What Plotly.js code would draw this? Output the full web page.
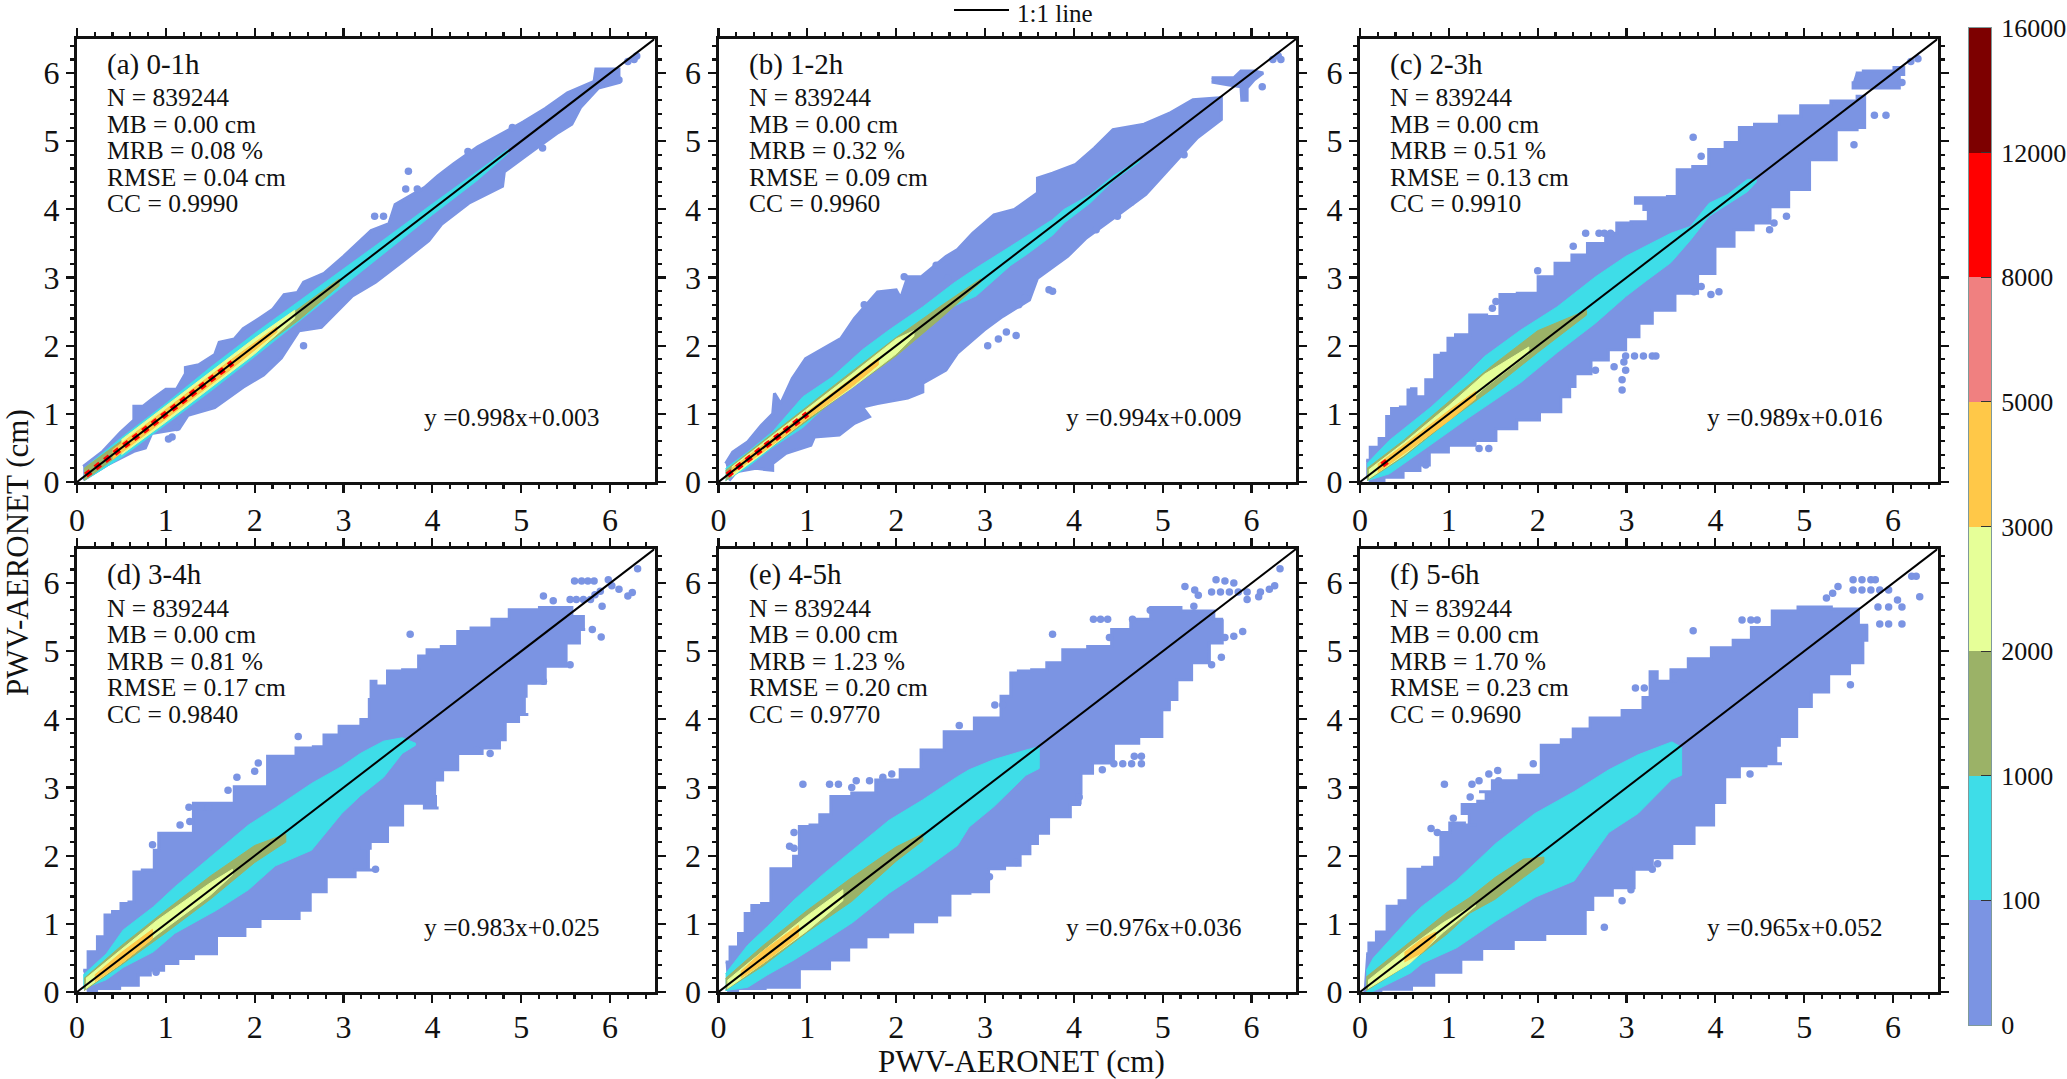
<!DOCTYPE html>
<html><head><meta charset="utf-8">
<script src="https://cdn.plot.ly/plotly-3.0.1.min.js"></script>
<style>html,body{margin:0;padding:0;background:#fff}</style></head>
<body><div id="chart" style="width:2067px;height:1079px"></div>
<script>
const panelTitles=["(a) 0-1h","(b) 1-2h","(c) 2-3h","(d) 3-4h","(e) 4-5h","(f) 5-6h"];
const nValues=["839244","839244","839244","839244","839244","839244"];
const mbValues=["0.00","0.00","0.00","0.00","0.00","0.00"];
const mrbValues=["0.08","0.32","0.51","0.81","1.23","1.70"];
const rmseValues=["0.04","0.09","0.13","0.17","0.20","0.23"];
const ccValues=["0.9990","0.9960","0.9910","0.9840","0.9770","0.9690"];
const fitLabels=["y =0.998x+0.003","y =0.994x+0.009","y =0.989x+0.016","y =0.983x+0.025","y =0.976x+0.036","y =0.965x+0.052"];
const levelLabels=["0","100","1000","2000","3000","5000","8000","12000","16000"];
const bandColors=["#7b94e3","#3edde8","#9bb267","#e6ff98","#ffc848","#f08080","#ff0000","#7d0000"];
const edgeShapes=["linear","linear","hvh","hvh","hvh","hvh"];

// outer region, count 0-100: polygon vertices (x,y) read along the upper then lower edge
const aBlueX=[.07,.29,.49,.64,.64,.74,.84,1,1.12,1.22,1.22,1.37,1.55,1.6,1.77,1.87,2.05,2.2,2.33,2.48,2.55,2.78,3,3.16,3.31,3.51,3.58,3.91,4.06,4.24,4.51,4.81,5.02,5.27,5.52,5.82,5.84,6.1,6.1,5.87,5.67,5.57,5.42,5.12,4.81,4.79,4.41,4.11,3.96,3.66,3.36,3.1,2.75,2.5,2.3,2.1,1.87,1.55,1.25,1.15,.84,.77,.64,.34,.07];
const aBlueY=[.23,.45,.73,.91,1.11,1.11,1.21,1.36,1.36,1.59,1.68,1.72,1.87,2.05,2.1,2.25,2.4,2.53,2.75,2.78,2.93,3.06,3.31,3.51,3.69,3.79,4.07,4.32,4.49,4.67,4.92,5.13,5.28,5.48,5.71,5.88,6.06,6.06,5.86,5.78,5.5,5.25,5.13,4.85,4.55,4.34,4.09,3.79,3.54,3.23,2.93,2.73,2.27,2.22,1.82,1.57,1.39,1.09,.98,.78,.71,.5,.45,.25,.03];
const aDotX=[3.73,3.7,3.83,3.35,3.45,2.55,4.4,4.9,5.24,6.27,6.3,6.2,6.1,1.07,1.12,1.03];
const aDotY=[4.56,4.3,4.3,3.9,3.9,2,4.85,5.2,4.9,6.2,6.25,6.17,5.9,.66,.8,.63];
const aCyanX=[.08,.5,1,1.5,2,2.5,3,3.5,4,4.5,4.85];
const aCyanHi=[.2,.65,1.15,1.68,2.18,2.65,3.12,3.6,4.08,4.55,4.88];
const aCyanLo=[.02,.36,.85,1.33,1.84,2.35,2.88,3.4,3.92,4.42,4.82];
const aOliveX=[.08,.6,1,2,2.5,2.95];
const aOliveHi=[.2,.7,1.1,2.08,2.55,2.98];
const aOliveLo=[.02,.52,.9,1.9,2.38,2.88];
const aYellowX=[.5,1,1.5,2,2.45];
const aYellowHi=[.62,1.12,1.62,2.11,2.52];
const aYellowLo=[.4,.88,1.38,1.88,2.4];
const aOrangeX=[.4,1,1.7,2.25];
const aOrangeHi=[.47,1.07,1.76,2.28];
const aOrangeLo=[.33,.93,1.62,2.2];
const aRedEnds=[.1,1.75];

const bBlueX=[.08,.16,.33,.48,.61,.63,.7,.83,.98,1.15,1.38,1.53,1.79,2,2.05,2.13,2.28,2.56,2.69,2.86,3.1,3.33,3.59,3.59,3.76,4.02,4.23,4.44,4.79,5.09,5.34,5.66,5.66,5.39,5,4.81,4.53,4.32,4.14,3.93,3.59,3.5,3.2,2.99,2.69,2.56,2.3,2.3,2.13,1.79,1.62,1.7,1.53,1.36,1.08,1.04,.76,.61,.61,.42,.2,.12,null,5.55,5.8,5.88,6.03,6.13,6.03,5.95,5.95,5.89,5.88,5.73,5.55];
const bBlueY=[.27,.44,.59,.83,1,1.3,1.15,1.52,1.81,1.94,2.11,2.4,2.79,2.82,2.7,3.01,3.01,3.31,3.41,3.65,3.92,4,4.24,4.46,4.53,4.66,4.9,5.17,5.25,5.42,5.61,5.64,5.32,5.05,4.49,4.22,3.95,3.75,3.58,3.31,2.99,2.67,2.43,2.23,1.89,1.64,1.45,1.32,1.23,1.15,1.1,.96,.86,.69,.66,.54,.42,.27,.17,.2,.15,.02,null,5.93,5.93,6.03,6.03,6,5.9,5.78,5.6,5.6,5.8,5.83,5.87];
const bDotX=[3.72,3.76,3.45,3.38,3.24,3.35,3.15,3.03,4.64,4.49,4.25,5.24,6.12,6.24,6.3,6.33,2.58,2.45,2.09,1.64];
const bDotY=[2.82,2.8,2.7,2.6,2.2,2.15,2.1,2,4.1,3.9,3.7,4.8,5.8,6.2,6.25,6.2,2.99,3.18,3.01,2.6];
const bCyanX=[.08,.33,.61,.95,1.28,1.62,1.92,2.3,2.65,2.9,3.29,3.46,3.76,3.89,4.19,4.44,4.74];
const bCyanHi=[.2,.44,.74,1.25,1.54,1.94,2.23,2.57,2.92,3.14,3.46,3.6,3.85,4,4.22,4.49,4.73];
const bCyanLo=[.02,.22,.51,.8,1.2,1.5,1.78,2.23,2.58,2.73,3.18,3.33,3.62,3.8,4.1,4.42,4.7];
const bOliveX=[.08,.5,1,1.5,2,2.5,2.95];
const bOliveHi=[.17,.6,1.12,1.62,2.12,2.58,2.98];
const bOliveLo=[.02,.42,.9,1.38,1.85,2.4,2.93];
const bYellowX=[.15,.5,1,1.5,2,2.2];
const bYellowHi=[.22,.57,1.07,1.58,2.1,2.22];
const bYellowLo=[.08,.42,.93,1.38,1.88,2.14];
const bOrangeX=[.15,.5,1,1.5,1.8];
const bOrangeHi=[.2,.54,1.03,1.52,1.82];
const bOrangeLo=[.12,.44,.93,1.4,1.72];
const bRedEnds=[.1,1];

const cBlueX=[.07,.16,.27,.33,.38,.53,.55,.61,.65,.83,.85,.98,1,1.15,1.32,1.53,1.62,1.92,2.09,2.3,2.47,2.65,2.88,2.9,3.2,3.29,3.1,3.1,3.37,3.55,3.59,3.9,3.95,4.27,4.27,4.61,4.83,5.09,5.51,5.68,5.68,5.51,5.21,4.91,4.74,4.49,4.36,4.06,3.93,3.67,3.42,3.16,3.12,2.86,2.73,2.47,2.37,2.35,2.17,1.87,1.66,1.4,1.19,.8,.76,.59,.38,.16,.07,null,5.58,5.75,5.9,6.12,6.12,6.02,5.55,5.55];
const cBlueY=[.32,.51,.64,.96,1.08,1.1,1.35,1.37,1.25,1.5,1.86,1.89,2.11,2.16,2.45,2.43,2.75,2.77,3.01,3.21,3.33,3.5,3.65,3.8,3.82,4,4.09,4.17,4.17,4.19,4.58,4.63,4.88,4.98,5.2,5.25,5.37,5.52,5.59,5.66,5.2,5.17,4.73,4.29,4.04,3.8,3.7,3.46,3.06,2.77,2.52,2.33,2.13,1.94,1.79,1.59,1.4,1.25,1.03,.91,.78,.61,.54,.44,.25,.17,.07,.02,.07,null,6,6.03,6.03,6.08,5.98,5.78,5.78,5.88];
const cDotX=[3.75,3.84,5.56,5.79,5.92,4.61,4.66,4.8,3.33,2.99,3.09,3.19,3.29,2.97,2.86,2.99,2.65,2.95,2.95,1.45,1.34,.74,6.1,6.28,6.2,4.04,3.95,3.76,3.84,2.54,2.69,2.75,2.82,2.4,2,1.53,1.49];
const cDotY=[5.06,4.78,4.95,5.38,5.38,3.7,3.8,3.9,1.85,1.85,1.85,1.85,1.85,1.76,1.69,1.64,1.64,1.5,1.35,.49,.49,.25,5.86,6.21,6.17,2.79,2.75,2.79,2.87,3.65,3.65,3.65,3.65,3.46,3.1,2.65,2.55];
const cCyanX=[.08,.33,.8,1.21,1.4,1.81,2.22,2.65,2.99,3.22,3.5,3.72,3.93,4.14,4.36,4.46];
const cCyanHi=[.27,.61,1.1,1.59,1.84,2.23,2.57,3.01,3.31,3.46,3.65,3.75,4.09,4.22,4.44,4.44];
const cCyanLo=[.02,.12,.55,.93,1.1,1.46,1.9,2.33,2.72,2.95,3.22,3.55,3.9,4.08,4.26,4.4];
const cOliveX=[.08,.5,1,1.5,2,2.55];
const cOliveHi=[.2,.62,1.18,1.72,2.22,2.52];
const cOliveLo=[.02,.38,.9,1.38,1.9,2.45];
const cYellowX=[.1,.5,1,1.4,1.9];
const cYellowHi=[.18,.58,1.12,1.58,1.98];
const cYellowLo=[.05,.4,.92,1.38,1.88];
const cOrangeX=[.2,.5,1,1.3];
const cOrangeHi=[.26,.55,1.05,1.33];
const cOrangeLo=[.14,.42,.9,1.22];
const cRedEnds=[.25,.35];

const dBlueX=[.07,.18,.28,.35,.45,.54,.63,.65,.82,.92,.92,1.14,1.48,1.63,1.91,2.38,2.55,2.77,2.79,3.11,3.28,3.3,3.32,3.41,3.58,3.75,3.94,3.94,4.26,4.31,4.56,4.78,4.95,5.46,5.68,5.72,5.59,5.42,5.12,4.99,5.08,4.86,4.78,4.73,4.39,4.18,4.05,4,4.07,3.75,3.58,3.41,3.19,3.37,2.89,2.72,2.53,2.47,2.08,2.04,1.74,1.4,1.22,1.05,.9,.75,.63,.33,.11];
const dBlueY=[.32,.59,.81,1.13,1.18,1.3,1.32,1.76,1.79,2.08,2.33,2.33,2.77,2.77,3.01,3.46,3.58,3.6,3.77,3.9,4,4.29,4.56,4.49,4.71,4.73,4.93,5.02,5.07,5.29,5.34,5.47,5.61,5.64,5.51,5.32,5.12,4.78,4.53,4.34,4.07,3.97,3.7,3.58,3.5,3.26,3.11,2.87,2.7,2.77,2.45,2.21,2.11,1.79,1.69,1.47,1.2,1.08,1.08,.96,.83,.56,.49,.42,.32,.25,.1,.05,.02];
const dDotX=[5.6,5.68,5.75,5.82,5.55,5.62,5.7,5.78,5.89,6.02,6.1,5.98,5.83,5.91,6.31,6.25,6.2,5.36,5.25,5.8,5.9,3.75,5.55,5.25,4.5,4.65,3.36,2.49,2.04,2,1.8,1.7,1.26,1.33,1.4,1.48,1.16,1.27,.85,.89];
const dDotY=[6.03,6.03,6.03,6.03,5.76,5.76,5.76,5.76,5.88,5.96,5.91,6.05,5.83,5.66,6.21,5.86,5.81,5.74,5.81,5.32,5.21,5.25,4.8,4.56,3.55,3.5,1.8,3.75,3.36,3.24,3.15,2.96,2.71,2.71,2.71,2.71,2.45,2.5,2.16,.29];
const dCyanX=[.07,.33,.52,.86,1.1,1.57,1.93,2.23,2.64,2.98,3.19,3.45,3.66,3.81];
const dCyanHi=[.25,.56,.91,1.25,1.54,2.06,2.45,2.7,3.06,3.31,3.5,3.68,3.73,3.65];
const dCyanLo=[.05,.18,.36,.59,.86,1.2,1.5,1.85,2.08,2.62,2.88,3.15,3.5,3.62];
const dOliveX=[.08,.5,1,1.5,2,2.35];
const dOliveHi=[.2,.68,1.2,1.7,2.15,2.32];
const dOliveLo=[.02,.4,.87,1.36,1.9,2.2];
const dYellowX=[.1,.5,.9,1.5,1.75];
const dYellowHi=[.2,.62,1.05,1.6,1.8];
const dYellowLo=[.05,.42,.84,1.42,1.72];
const dOrangeX=[.2,.5,.85];
const dOrangeHi=[.25,.58,.92];
const dOrangeLo=[.15,.42,.78];

const eBlueX=[.08,.18,.27,.33,.42,.55,.63,.8,.89,.93,1.13,1.15,1.38,1.62,1.92,2.17,2.39,2.69,3.07,3.29,3.29,3.46,3.59,3.8,3.95,4.36,4.49,4.79,4.94,5.47,5.68,5.66,5.39,5.26,5.06,5.09,4.89,4.57,4.32,4.1,4.06,4.08,3.84,3.59,3.59,3.42,3.37,3.07,3.01,2.65,2.56,2.35,2.02,1.79,1.53,1.4,1.1,.72,.33,.1];
const eBlueY=[.44,.66,.86,1.15,1.27,1.3,1.81,1.81,1.99,2.43,2.45,2.6,2.87,2.92,3.11,3.26,3.55,3.82,4.02,4.34,4.68,4.71,4.73,4.83,5.02,5.07,5.32,5.47,5.64,5.59,5.47,5.12,4.83,4.58,4.29,4.14,3.75,3.65,3.36,3.21,2.92,2.75,2.57,2.33,2.18,2.03,1.86,1.81,1.47,1.45,1.13,1.03,.88,.81,.66,.47,.34,.07,.05,0];
const eDotX=[.95,1.25,1.35,1.5,1.55,1.7,1.85,1.95,.85,.8,.85,2.71,3.11,3.2,3.76,4.4,4.66,4.38,4.3,4.22,4.86,5.66,5.55,4.45,4.55,4.65,4.76,4.68,4.76,4.32,4.06,3.35,3.05,5.6,5.7,5.8,5.25,5.36,5.4,5.55,5.65,5.75,5.85,5.95,6.1,5.95,6.08,5.9,5.8,5.7,6.32,6.26,6.2,5.35];
const eDotY=[3.05,3.05,3.05,3,3.1,3.1,3.15,3.2,2.34,2.14,2.11,3.91,4.21,4.21,5.25,5.2,5.47,5.47,5.47,5.47,5.6,4.91,4.8,3.35,3.35,3.35,3.35,3.46,3.46,3.26,2.86,1.9,1.69,6.05,6.03,6,5.95,5.9,5.82,5.87,5.87,5.87,5.87,5.87,5.87,5.76,5.8,5.29,5.22,5.2,6.21,5.96,5.91,5.66];
const eCyanX=[.08,.33,.55,.85,1.19,1.51,1.92,2.3,2.69,2.82,3.1,3.46,3.61];
const eCyanHi=[.27,.69,.96,1.35,1.74,2.08,2.52,2.82,3.16,3.26,3.41,3.55,3.6];
const eCyanLo=[.02,.07,.25,.47,.75,1.02,1.45,1.78,2.15,2.42,2.72,3.18,3.28];
const eOliveX=[.08,.5,1,1.5,2,2.3];
const eOliveHi=[.2,.68,1.2,1.68,2.13,2.32];
const eOliveLo=[.03,.38,.88,1.33,1.92,2.22];
const eYellowX=[.1,.5,1,1.4];
const eYellowHi=[.17,.6,1.12,1.5];
const eYellowLo=[.05,.42,.9,1.34];
const eOrangeX=[.25,.5,.9];
const eOrangeHi=[.3,.6,.98];
const eOrangeLo=[.2,.42,.82];

const fBlueX=[.07,.13,.24,.37,.51,.57,.84,.84,.98,1.04,1.31,1.15,1.15,1.5,1.34,1.64,1.94,2.14,2.39,2.41,2.77,3.13,3.24,3.29,3.4,3.6,3.79,4.12,4.28,4.53,4.75,5.11,5.5,5.72,5.69,5.63,5.39,5.16,5,4.83,4.61,4.75,4.39,4.15,4.06,3.9,3.62,3.4,3.18,2.99,2.69,2.55,2.52,2.3,1.86,1.59,1.15,1.12,.93,.73,.43,.04];
const fBlueY=[.56,.72,.88,1.26,1.34,1.8,1.83,1.97,2.34,2.48,2.45,2.62,2.75,2.8,2.94,3.1,3.18,3.62,3.7,3.86,4.02,4.13,4.32,4.7,4.56,4.73,4.89,5.05,5.16,5.35,5.59,5.65,5.62,5.38,5.16,4.83,4.67,4.4,4.19,3.75,3.62,3.35,3.32,3.16,2.78,2.45,2.18,1.97,1.8,1.53,1.42,1.21,.86,.86,.77,.64,.48,.29,.29,.1,.04,0];
const fDotX=[.95,1.26,1.45,1.55,1.24,1.34,1.56,1.95,1.05,.8,.87,3.75,3.1,3.2,3.55,6.3,6.21,6.26,2.75,2.95,3.05,3.29,3.35,4.39,5.52,5.55,5.65,5.75,5.8,5.55,5.65,5.75,5.85,5.95,5.38,5.32,5.25,5.83,5.95,6.1,5.85,5.95,6.1,4.4,4.3,4.47,6.05];
const fDotY=[3.05,3.05,3.2,3.25,2.86,3.1,3.1,3.35,2.55,2.4,2.34,5.3,4.46,4.46,4.6,5.8,6.1,6.1,.95,1.34,1.5,1.8,1.88,3.2,4.51,6.05,6.05,6.05,6.05,5.9,5.9,5.9,5.9,5.9,5.95,5.85,5.78,5.65,5.65,5.65,5.4,5.4,5.4,5.46,5.46,5.46,5.75];
const fCyanX=[.07,.15,.57,.7,1.09,1.53,1.97,2.41,2.8,3.13,3.51,3.62];
const fCyanHi=[.31,.5,1.1,1.26,1.64,2.18,2.62,2.94,3.26,3.48,3.67,3.59];
const fCyanLo=[0,.01,.28,.42,.65,1.04,1.39,1.63,2.34,2.62,3.12,3.18];
const fOliveX=[.07,.49,.98,1.24,1.52,1.84,2.07];
const fOliveHi=[.22,.66,1.17,1.39,1.68,1.95,1.98];
const fOliveLo=[.02,.36,.85,1.16,1.36,1.68,1.9];
const fYellowX=[.09,.56,.94,1.3];
const fYellowHi=[.17,.66,1.02,1.29];
const fYellowLo=[.05,.42,.88,1.26];
const fOrangeX=[.5,.7,.85];
const fOrangeHi=[.58,.78,.88];
const fOrangeLo=[.44,.58,.8];

const diagonalEnds=[0,6.5];

const blueX=[aBlueX,bBlueX,cBlueX,dBlueX,eBlueX,fBlueX], blueY=[aBlueY,bBlueY,cBlueY,dBlueY,eBlueY,fBlueY];
const dotX=[aDotX,bDotX,cDotX,dDotX,eDotX,fDotX], dotY=[aDotY,bDotY,cDotY,dDotY,eDotY,fDotY];
const bandTables=[
 [[aCyanX,aCyanHi,aCyanLo],[aOliveX,aOliveHi,aOliveLo],[aYellowX,aYellowHi,aYellowLo],[aOrangeX,aOrangeHi,aOrangeLo]],
 [[bCyanX,bCyanHi,bCyanLo],[bOliveX,bOliveHi,bOliveLo],[bYellowX,bYellowHi,bYellowLo],[bOrangeX,bOrangeHi,bOrangeLo]],
 [[cCyanX,cCyanHi,cCyanLo],[cOliveX,cOliveHi,cOliveLo],[cYellowX,cYellowHi,cYellowLo],[cOrangeX,cOrangeHi,cOrangeLo]],
 [[dCyanX,dCyanHi,dCyanLo],[dOliveX,dOliveHi,dOliveLo],[dYellowX,dYellowHi,dYellowLo],[dOrangeX,dOrangeHi,dOrangeLo]],
 [[eCyanX,eCyanHi,eCyanLo],[eOliveX,eOliveHi,eOliveLo],[eYellowX,eYellowHi,eYellowLo],[eOrangeX,eOrangeHi,eOrangeLo]],
 [[fCyanX,fCyanHi,fCyanLo],[fOliveX,fOliveHi,fOliveLo],[fYellowX,fYellowHi,fYellowLo],[fOrangeX,fOrangeHi,fOrangeLo]]
];
const redEnds=[aRedEnds,bRedEnds,cRedEnds,null,null,null];

const W=2067,H=1079;
const SERIF="Liberation Serif";
const panelLeft=[77,718.5,1360], panelTop=[39,549], panelW=577.5, panelH=443;
const traces=[],annotations=[],layout={};
function rev(a){return a.slice().reverse();}
function txt(x,y,text,size,extra){
  annotations.push(Object.assign({xref:"paper",yref:"paper",x:x/W,y:1-y/H,text:text,showarrow:false,xanchor:"left",yanchor:"middle",borderpad:0,font:{family:SERIF,size:size,color:"#111"}},extra||{}));
}
for(let p=0;p<6;p++){
  const col=p%3,row=Math.floor(p/3),n=p+1;
  const L=panelLeft[col],T=panelTop[row];
  const xa="x"+(n===1?"":n),ya="y"+(n===1?"":n);
  const axBase={range:[0,6.5],dtick:1,tick0:0,ticks:"outside",ticklen:8,tickwidth:2.2,tickcolor:"#111",linecolor:"#111",linewidth:3,mirror:"allticks",showgrid:false,zeroline:false,
    minor:{dtick:.2,tick0:0,ticks:"outside",ticklen:4,tickwidth:2.2,tickcolor:"#111",showgrid:false},
    tickfont:{family:SERIF,size:32,color:"#111"}};
  layout["xaxis"+(n===1?"":n)]=Object.assign({},axBase,{domain:[L/W,(L+panelW)/W],anchor:ya,ticklabelstandoff:row===1?-3:0});
  layout["yaxis"+(n===1?"":n)]=Object.assign({},axBase,{domain:[1-(T+panelH)/H,1-T/H],anchor:xa});
  traces.push({type:"scatter",mode:"lines",xaxis:xa,yaxis:ya,x:blueX[p],y:blueY[p],fill:"toself",fillcolor:bandColors[0],line:{color:bandColors[0],width:3,shape:edgeShapes[p]},hoverinfo:"skip",showlegend:false});
  traces.push({type:"scatter",mode:"markers",xaxis:xa,yaxis:ya,x:dotX[p],y:dotY[p],marker:{color:bandColors[0],size:7.5},hoverinfo:"skip",showlegend:false});
  bandTables[p].forEach((b,i)=>{
    traces.push({type:"scatter",mode:"lines",xaxis:xa,yaxis:ya,x:b[0].concat(rev(b[0])),y:b[1].concat(rev(b[2])),fill:"toself",fillcolor:bandColors[i+1],line:{color:bandColors[i+1],width:1},hoverinfo:"skip",showlegend:false});
  });
  if(redEnds[p]) traces.push({type:"scatter",mode:"lines",xaxis:xa,yaxis:ya,x:redEnds[p],y:redEnds[p],line:{color:bandColors[6],width:6,dash:"6px,6px"},hoverinfo:"skip",showlegend:false});
  traces.push({type:"scatter",mode:"lines",xaxis:xa,yaxis:ya,x:diagonalEnds,y:diagonalEnds,line:{color:"#000",width:2},hoverinfo:"skip",showlegend:false});
  const tx=L+29;
  txt(tx,T+25,panelTitles[p],29);
  txt(tx,T+59,"N = "+nValues[p],25.5);
  txt(tx,T+85.5,"MB = "+mbValues[p]+" cm",25.5);
  txt(tx,T+112,"MRB = "+mrbValues[p]+" %",25.5);
  txt(tx,T+138.5,"RMSE = "+rmseValues[p]+" cm",25.5);
  txt(tx,T+165,"CC = "+ccValues[p],25.5);
  txt(L+346,T+378,fitLabels[p],25.5);
}
// colour scale strip
const cbZ=bandColors.map((c,i)=>[i]);
const cbScale=[];
bandColors.forEach((c,i)=>{cbScale.push([i/8,c]);cbScale.push([(i+1)/8,c]);});
traces.push({type:"heatmap",xaxis:"x7",yaxis:"y7",x:[0,1],y:[0,1,2,3,4,5,6,7,8],z:cbZ,zmin:-.5,zmax:7.5,colorscale:cbScale,showscale:false,hoverinfo:"skip"});
layout.xaxis7={domain:[1969/W,1991/W],range:[0,1],anchor:"y7",showticklabels:false,ticks:"",showgrid:false,zeroline:false,linecolor:"#7f9a9a",linewidth:1,mirror:true};
layout.yaxis7={domain:[1-1025/H,1-28/H],range:[0,8],anchor:"x7",side:"right",tickvals:[0,1,2,3,4,5,6,7,8],ticktext:levelLabels,ticks:"inside",ticklen:10,tickwidth:1.2,tickcolor:"#333",ticklabelstandoff:4,showgrid:false,zeroline:false,linecolor:"#7f9a9a",linewidth:1,mirror:true,tickfont:{family:SERIF,size:26,color:"#111"}};
txt(1021,1061,"PWV-AERONET (cm)",31,{xanchor:"center"});
txt(17,553,"PWV-AERONET (cm)",31,{xanchor:"center",textangle:-90});
txt(1016,14,"1:1 line",25);
Object.assign(layout,{width:W,height:H,margin:{l:0,r:0,t:0,b:0},paper_bgcolor:"#fff",plot_bgcolor:"#fff",annotations:annotations,showlegend:false,
  shapes:[{type:"line",xref:"paper",yref:"paper",x0:954/W,x1:1009/W,y0:1-10/H,y1:1-10/H,line:{color:"#000",width:2}}]});
Plotly.newPlot("chart",traces,layout,{displayModeBar:false,staticPlot:true});
</script></body></html>
